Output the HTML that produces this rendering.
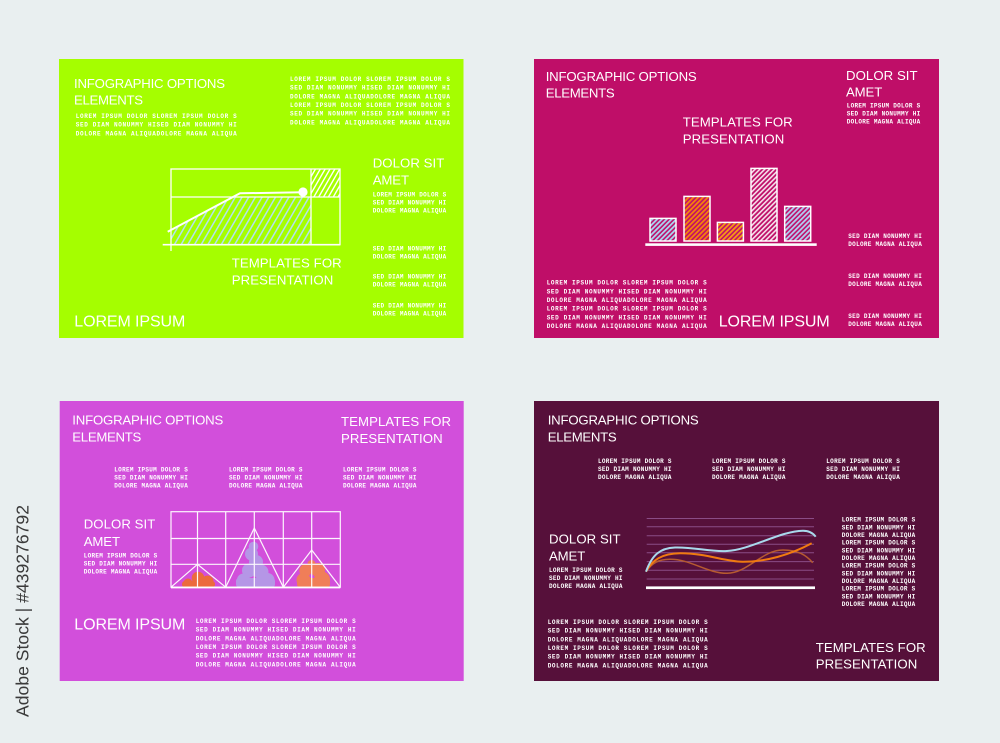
<!DOCTYPE html>
<html><head><meta charset="utf-8"><style>
html,body{margin:0;padding:0;background:#e9eff0;}
svg{display:block}
.h{font-family:"Liberation Sans",Arial,sans-serif;font-size:13.2px;fill:#fff}
.b{font-family:"Liberation Sans",Arial,sans-serif;font-size:16px;fill:#fff}
.l{font-family:"Liberation Mono",monospace;font-weight:bold;font-size:6px;fill:#fff}
</style></head><body>
<svg width="1000" height="743" viewBox="0 0 1000 743" xmlns="http://www.w3.org/2000/svg">
<defs>
<pattern id="hTL" width="5.8" height="10" patternUnits="userSpaceOnUse" patternTransform="rotate(30)"><rect width="1.5" height="10" fill="#b3e2ef"/></pattern>
<pattern id="hW" width="4.2" height="10" patternUnits="userSpaceOnUse" patternTransform="rotate(30)"><rect width="1.4" height="10" fill="#ffffff"/></pattern>
<pattern id="pB" width="3.4" height="3.4" patternUnits="userSpaceOnUse" patternTransform="rotate(45)"><rect width="1.8" height="3.4" fill="#a9d6f2"/></pattern>
<pattern id="pO" width="3.4" height="3.4" patternUnits="userSpaceOnUse" patternTransform="rotate(45)"><rect width="1.8" height="3.4" fill="#f5820c"/></pattern>
<pattern id="pO2" width="3.4" height="3.4" patternUnits="userSpaceOnUse" patternTransform="rotate(45)"><rect width="1.8" height="3.4" fill="#f79a14"/></pattern>
<pattern id="pW" width="3.4" height="3.4" patternUnits="userSpaceOnUse" patternTransform="rotate(45)"><rect width="1.6" height="3.4" fill="#f6e2ec"/></pattern>
<pattern id="pB2" width="3.4" height="3.4" patternUnits="userSpaceOnUse" patternTransform="rotate(45)"><rect width="1.8" height="3.4" fill="#b0cdf2"/></pattern>
</defs>

<!-- watermark -->
<text transform="translate(28.5,611) rotate(-90)" text-anchor="middle" font-family="Liberation Sans, Arial, sans-serif" font-size="17.6" fill="#3a3a3a" textLength="212">Adobe Stock | #439276792</text>

<!-- ================= TOP LEFT (lime) ================= -->
<rect x="59" y="59" width="404.5" height="279" fill="#a5fe00"/>
<text class="h" x="74" y="88" textLength="151">INFOGRAPHIC OPTIONS</text>
<text class="h" x="74" y="104.5" textLength="69">ELEMENTS</text>
<text class="l" x="75.7" y="118" textLength="161">LOREM IPSUM DOLOR SLOREM IPSUM DOLOR S</text>
<text class="l" x="75.7" y="126.7" textLength="161">SED DIAM NONUMMY HISED DIAM NONUMMY HI</text>
<text class="l" x="75.7" y="135.3" textLength="161">DOLORE MAGNA ALIQUADOLORE MAGNA ALIQUA</text>

<text class="l" x="290" y="81" textLength="160">LOREM IPSUM DOLOR SLOREM IPSUM DOLOR S</text>
<text class="l" x="290" y="89.7" textLength="160">SED DIAM NONUMMY HISED DIAM NONUMMY HI</text>
<text class="l" x="290" y="98.3" textLength="160">DOLORE MAGNA ALIQUADOLORE MAGNA ALIQUA</text>
<text class="l" x="290" y="107" textLength="160">LOREM IPSUM DOLOR SLOREM IPSUM DOLOR S</text>
<text class="l" x="290" y="115.7" textLength="160">SED DIAM NONUMMY HISED DIAM NONUMMY HI</text>
<text class="l" x="290" y="124.3" textLength="160">DOLORE MAGNA ALIQUADOLORE MAGNA ALIQUA</text>

<text class="h" x="372.7" y="167.7" textLength="71.6">DOLOR SIT</text>
<text class="h" x="372.7" y="184.7" textLength="36.3">AMET</text>
<text class="l" x="372.7" y="196.3" textLength="73.5">LOREM IPSUM DOLOR S</text>
<text class="l" x="372.7" y="204.5" textLength="73.5">SED DIAM NONUMMY HI</text>
<text class="l" x="372.7" y="212.7" textLength="73.5">DOLORE MAGNA ALIQUA</text>
<text class="l" x="372.7" y="250.3" textLength="73.5">SED DIAM NONUMMY HI</text>
<text class="l" x="372.7" y="258.3" textLength="73.5">DOLORE MAGNA ALIQUA</text>
<text class="l" x="372.7" y="278.7" textLength="73.5">SED DIAM NONUMMY HI</text>
<text class="l" x="372.7" y="286.7" textLength="73.5">DOLORE MAGNA ALIQUA</text>
<text class="l" x="372.7" y="307.3" textLength="73.5">SED DIAM NONUMMY HI</text>
<text class="l" x="372.7" y="315.3" textLength="73.5">DOLORE MAGNA ALIQUA</text>

<text class="h" x="231.7" y="267.7" textLength="110">TEMPLATES FOR</text>
<text class="h" x="231.7" y="284.3" textLength="101.6">PRESENTATION</text>
<text class="b" x="74.3" y="326.7" textLength="111">LOREM IPSUM</text>

<!-- TL chart -->
<polygon points="171,229.9 233,197 311,197 311,244 171,244" fill="url(#hTL)"/>
<rect x="311" y="169" width="29" height="28" fill="url(#hW)"/>
<rect x="171" y="169" width="169" height="75.7" fill="none" stroke="#fff" stroke-width="1.3"/>
<line x1="171" y1="197" x2="340" y2="197" stroke="#fff" stroke-width="1.3"/>
<line x1="311" y1="169" x2="311" y2="245" stroke="#fff" stroke-width="1.3"/>
<line x1="162.7" y1="244.7" x2="340" y2="244.7" stroke="#fff" stroke-width="1.6"/>
<line x1="171" y1="244" x2="171" y2="251" stroke="#fff" stroke-width="1.3"/>
<polyline points="167.7,231.7 240,193.3 303,192.3" fill="none" stroke="#fff" stroke-width="2"/>
<circle cx="303" cy="192" r="4.6" fill="#fff"/>

<!-- ================= TOP RIGHT (magenta) ================= -->
<rect x="534" y="59" width="405" height="279" fill="#bf0e68"/>
<text class="h" x="545.7" y="81" textLength="151">INFOGRAPHIC OPTIONS</text>
<text class="h" x="545.7" y="97.7" textLength="69">ELEMENTS</text>
<text class="h" x="846" y="80" textLength="71.6">DOLOR SIT</text>
<text class="h" x="846" y="96.7" textLength="36.3">AMET</text>
<text class="l" x="846.7" y="107.3" textLength="73.5">LOREM IPSUM DOLOR S</text>
<text class="l" x="846.7" y="115.3" textLength="73.5">SED DIAM NONUMMY HI</text>
<text class="l" x="846.7" y="123.3" textLength="73.5">DOLORE MAGNA ALIQUA</text>
<text class="h" x="682.7" y="126.7" textLength="110">TEMPLATES FOR</text>
<text class="h" x="682.7" y="143.3" textLength="101.6">PRESENTATION</text>

<!-- bars -->
<rect x="650" y="218.4" width="26" height="22.6" fill="url(#pB)" stroke="#fff" stroke-width="1.5"/>
<rect x="684" y="196.4" width="26" height="44.6" fill="url(#pO)" stroke="#fff" stroke-width="1.5"/>
<rect x="717.4" y="222.4" width="26" height="18.6" fill="url(#pO2)" stroke="#fff" stroke-width="1.5"/>
<rect x="751" y="168.4" width="26" height="72.6" fill="url(#pW)" stroke="#fff" stroke-width="1.5"/>
<rect x="784.7" y="206.4" width="26" height="34.6" fill="url(#pB2)" stroke="#fff" stroke-width="1.5"/>
<rect x="645.3" y="243.3" width="171.4" height="2.6" fill="#fff"/>

<text class="l" x="848.3" y="238" textLength="73.5">SED DIAM NONUMMY HI</text>
<text class="l" x="848.3" y="246" textLength="73.5">DOLORE MAGNA ALIQUA</text>
<text class="l" x="848.3" y="278" textLength="73.5">SED DIAM NONUMMY HI</text>
<text class="l" x="848.3" y="286" textLength="73.5">DOLORE MAGNA ALIQUA</text>
<text class="l" x="848.3" y="318" textLength="73.5">SED DIAM NONUMMY HI</text>
<text class="l" x="848.3" y="326" textLength="73.5">DOLORE MAGNA ALIQUA</text>

<text class="l" x="546.7" y="284.7" textLength="160">LOREM IPSUM DOLOR SLOREM IPSUM DOLOR S</text>
<text class="l" x="546.7" y="293.3" textLength="160">SED DIAM NONUMMY HISED DIAM NONUMMY HI</text>
<text class="l" x="546.7" y="302" textLength="160">DOLORE MAGNA ALIQUADOLORE MAGNA ALIQUA</text>
<text class="l" x="546.7" y="310.7" textLength="160">LOREM IPSUM DOLOR SLOREM IPSUM DOLOR S</text>
<text class="l" x="546.7" y="319.3" textLength="160">SED DIAM NONUMMY HISED DIAM NONUMMY HI</text>
<text class="l" x="546.7" y="328" textLength="160">DOLORE MAGNA ALIQUADOLORE MAGNA ALIQUA</text>
<text class="b" x="718.7" y="326.7" textLength="111">LOREM IPSUM</text>

<!-- ================= BOTTOM LEFT (pink) ================= -->
<rect x="59.7" y="401" width="404" height="280" fill="#d24fdb"/>
<text class="h" x="72.3" y="424.7" textLength="151">INFOGRAPHIC OPTIONS</text>
<text class="h" x="72.3" y="441.3" textLength="69">ELEMENTS</text>
<text class="h" x="341" y="426" textLength="110">TEMPLATES FOR</text>
<text class="h" x="341" y="443" textLength="101.6">PRESENTATION</text>

<text class="l" x="114.3" y="471.3" textLength="73.5">LOREM IPSUM DOLOR S</text>
<text class="l" x="114.3" y="479.3" textLength="73.5">SED DIAM NONUMMY HI</text>
<text class="l" x="114.3" y="487.3" textLength="73.5">DOLORE MAGNA ALIQUA</text>
<text class="l" x="229" y="471.3" textLength="73.5">LOREM IPSUM DOLOR S</text>
<text class="l" x="229" y="479.3" textLength="73.5">SED DIAM NONUMMY HI</text>
<text class="l" x="229" y="487.3" textLength="73.5">DOLORE MAGNA ALIQUA</text>
<text class="l" x="343" y="471.3" textLength="73.5">LOREM IPSUM DOLOR S</text>
<text class="l" x="343" y="479.3" textLength="73.5">SED DIAM NONUMMY HI</text>
<text class="l" x="343" y="487.3" textLength="73.5">DOLORE MAGNA ALIQUA</text>

<text class="h" x="83.7" y="528.7" textLength="71.6">DOLOR SIT</text>
<text class="h" x="83.7" y="546" textLength="36.3">AMET</text>
<text class="l" x="83.7" y="557.7" textLength="73.5">LOREM IPSUM DOLOR S</text>
<text class="l" x="83.7" y="565.7" textLength="73.5">SED DIAM NONUMMY HI</text>
<text class="l" x="83.7" y="573.7" textLength="73.5">DOLORE MAGNA ALIQUA</text>

<!-- blobs -->
<g fill="#ec6a3e">
<circle cx="188" cy="583" r="4.5"/>
<circle cx="198" cy="578" r="6.3"/>
<circle cx="207.5" cy="581.5" r="6"/>
<rect x="182" y="581" width="33" height="6.5" rx="3"/>
</g>
<g fill="#b596e6">
<circle cx="253.5" cy="546.5" r="4.8"/>
<circle cx="251.5" cy="554" r="6.5"/>
<circle cx="256" cy="562" r="7"/>
<circle cx="249" cy="570.5" r="7"/>
<circle cx="261" cy="572" r="7.5"/>
<circle cx="243.5" cy="580" r="6.5"/>
<circle cx="267.5" cy="580" r="7"/>
<rect x="236" y="578" width="39" height="9.5" rx="3"/>
</g>
<g fill="#f07e58">
<circle cx="311.5" cy="564" r="4"/>
<circle cx="305.5" cy="570.5" r="6.2"/>
<circle cx="318" cy="570" r="7"/>
<circle cx="303.5" cy="580" r="7"/>
<circle cx="322" cy="579.5" r="8"/>
<rect x="297" y="578" width="33" height="9.5" rx="3"/>
</g>

<!-- grid -->
<g stroke="#fff" stroke-width="1.2" fill="none" opacity="0.95">
<rect x="171" y="511.7" width="169.3" height="75.5"/>
<line x1="171" y1="538.5" x2="340.3" y2="538.5"/>
<line x1="171" y1="564.3" x2="340.3" y2="564.3"/>
<line x1="197.5" y1="511.7" x2="197.5" y2="587.2"/>
<line x1="225.7" y1="511.7" x2="225.7" y2="587.2"/>
<line x1="254.3" y1="511.7" x2="254.3" y2="587.2"/>
<line x1="283.3" y1="511.7" x2="283.3" y2="587.2"/>
<line x1="311.7" y1="511.7" x2="311.7" y2="587.2"/>
<polyline points="171,587.2 197.5,564.3 225.7,587.2"/>
<polyline points="225.7,587.2 254.3,528 283.3,587.2"/>
<polyline points="283.3,587.2 311.7,550 340.3,587.2"/>
</g>
<line x1="171" y1="587.5" x2="340.3" y2="587.5" stroke="#fff" stroke-width="1.8"/>

<text class="b" x="74.3" y="629.7" textLength="111">LOREM IPSUM</text>
<text class="l" x="195.7" y="623" textLength="160">LOREM IPSUM DOLOR SLOREM IPSUM DOLOR S</text>
<text class="l" x="195.7" y="631.7" textLength="160">SED DIAM NONUMMY HISED DIAM NONUMMY HI</text>
<text class="l" x="195.7" y="640.3" textLength="160">DOLORE MAGNA ALIQUADOLORE MAGNA ALIQUA</text>
<text class="l" x="195.7" y="649" textLength="160">LOREM IPSUM DOLOR SLOREM IPSUM DOLOR S</text>
<text class="l" x="195.7" y="657.7" textLength="160">SED DIAM NONUMMY HISED DIAM NONUMMY HI</text>
<text class="l" x="195.7" y="666.3" textLength="160">DOLORE MAGNA ALIQUADOLORE MAGNA ALIQUA</text>

<!-- ================= BOTTOM RIGHT (maroon) ================= -->
<rect x="534" y="401" width="405" height="280" fill="#56103a"/>
<text class="h" x="547.7" y="424.7" textLength="151">INFOGRAPHIC OPTIONS</text>
<text class="h" x="547.7" y="441.3" textLength="69">ELEMENTS</text>

<text class="l" x="598" y="463" textLength="73.5">LOREM IPSUM DOLOR S</text>
<text class="l" x="598" y="471" textLength="73.5">SED DIAM NONUMMY HI</text>
<text class="l" x="598" y="479" textLength="73.5">DOLORE MAGNA ALIQUA</text>
<text class="l" x="712" y="463" textLength="73.5">LOREM IPSUM DOLOR S</text>
<text class="l" x="712" y="471" textLength="73.5">SED DIAM NONUMMY HI</text>
<text class="l" x="712" y="479" textLength="73.5">DOLORE MAGNA ALIQUA</text>
<text class="l" x="826.3" y="463" textLength="73.5">LOREM IPSUM DOLOR S</text>
<text class="l" x="826.3" y="471" textLength="73.5">SED DIAM NONUMMY HI</text>
<text class="l" x="826.3" y="479" textLength="73.5">DOLORE MAGNA ALIQUA</text>

<text class="h" x="549" y="543.7" textLength="71.6">DOLOR SIT</text>
<text class="h" x="549" y="560.3" textLength="36.3">AMET</text>
<text class="l" x="549" y="572" textLength="73.5">LOREM IPSUM DOLOR S</text>
<text class="l" x="549" y="580" textLength="73.5">SED DIAM NONUMMY HI</text>
<text class="l" x="549" y="588" textLength="73.5">DOLORE MAGNA ALIQUA</text>

<!-- line chart -->
<g stroke="#8a4c86" stroke-width="1">
<line x1="646.7" y1="518.5" x2="814" y2="518.5"/>
<line x1="646.7" y1="526.8" x2="814" y2="526.8"/>
<line x1="646.7" y1="535.8" x2="814" y2="535.8"/>
<line x1="646.7" y1="544.3" x2="814" y2="544.3"/>
<line x1="646.7" y1="552.8" x2="814" y2="552.8"/>
<line x1="646.7" y1="561.6" x2="814" y2="561.6"/>
<line x1="646.7" y1="570.3" x2="814" y2="570.3"/>
<line x1="646.7" y1="579" x2="814" y2="579"/>
</g>
<path d="M646,571.7 C652,563 658,559.5 670,559.3 C690,559 708,573.5 727,573.3 C748,573 762,550 783,550 C798,550 806,555 812.7,562.7" fill="none" stroke="#b65a30" stroke-width="1.5"/>
<path d="M646,571.7 C652,560 662,553.5 680,553.3 C705,553 725,561.5 742,561.7 C765,562 790,555 811.7,543.3" fill="none" stroke="#f07a10" stroke-width="2"/>
<path d="M646,571.7 C652,555 660,548 675,547.5 C695,547 710,552 727,551 C750,550 780,531 803,530.7 C809,530.7 813,533 815.7,536.7" fill="none" stroke="#a9d9ec" stroke-width="2"/>
<rect x="646" y="586.4" width="169" height="2.7" fill="#fff"/>

<text class="l" x="841.7" y="521.7" textLength="73.5">LOREM IPSUM DOLOR S</text>
<text class="l" x="841.7" y="529.4" textLength="73.5">SED DIAM NONUMMY HI</text>
<text class="l" x="841.7" y="537" textLength="73.5">DOLORE MAGNA ALIQUA</text>
<text class="l" x="841.7" y="544.7" textLength="73.5">LOREM IPSUM DOLOR S</text>
<text class="l" x="841.7" y="552.4" textLength="73.5">SED DIAM NONUMMY HI</text>
<text class="l" x="841.7" y="560" textLength="73.5">DOLORE MAGNA ALIQUA</text>
<text class="l" x="841.7" y="567.7" textLength="73.5">LOREM IPSUM DOLOR S</text>
<text class="l" x="841.7" y="575.4" textLength="73.5">SED DIAM NONUMMY HI</text>
<text class="l" x="841.7" y="583" textLength="73.5">DOLORE MAGNA ALIQUA</text>
<text class="l" x="841.7" y="590.7" textLength="73.5">LOREM IPSUM DOLOR S</text>
<text class="l" x="841.7" y="598.4" textLength="73.5">SED DIAM NONUMMY HI</text>
<text class="l" x="841.7" y="606" textLength="73.5">DOLORE MAGNA ALIQUA</text>

<text class="l" x="547.7" y="624" textLength="160">LOREM IPSUM DOLOR SLOREM IPSUM DOLOR S</text>
<text class="l" x="547.7" y="632.7" textLength="160">SED DIAM NONUMMY HISED DIAM NONUMMY HI</text>
<text class="l" x="547.7" y="641.3" textLength="160">DOLORE MAGNA ALIQUADOLORE MAGNA ALIQUA</text>
<text class="l" x="547.7" y="650" textLength="160">LOREM IPSUM DOLOR SLOREM IPSUM DOLOR S</text>
<text class="l" x="547.7" y="658.7" textLength="160">SED DIAM NONUMMY HISED DIAM NONUMMY HI</text>
<text class="l" x="547.7" y="667.3" textLength="160">DOLORE MAGNA ALIQUADOLORE MAGNA ALIQUA</text>

<text class="h" x="815.7" y="652" textLength="110">TEMPLATES FOR</text>
<text class="h" x="815.7" y="668.7" textLength="101.6">PRESENTATION</text>
</svg>
</body></html>
